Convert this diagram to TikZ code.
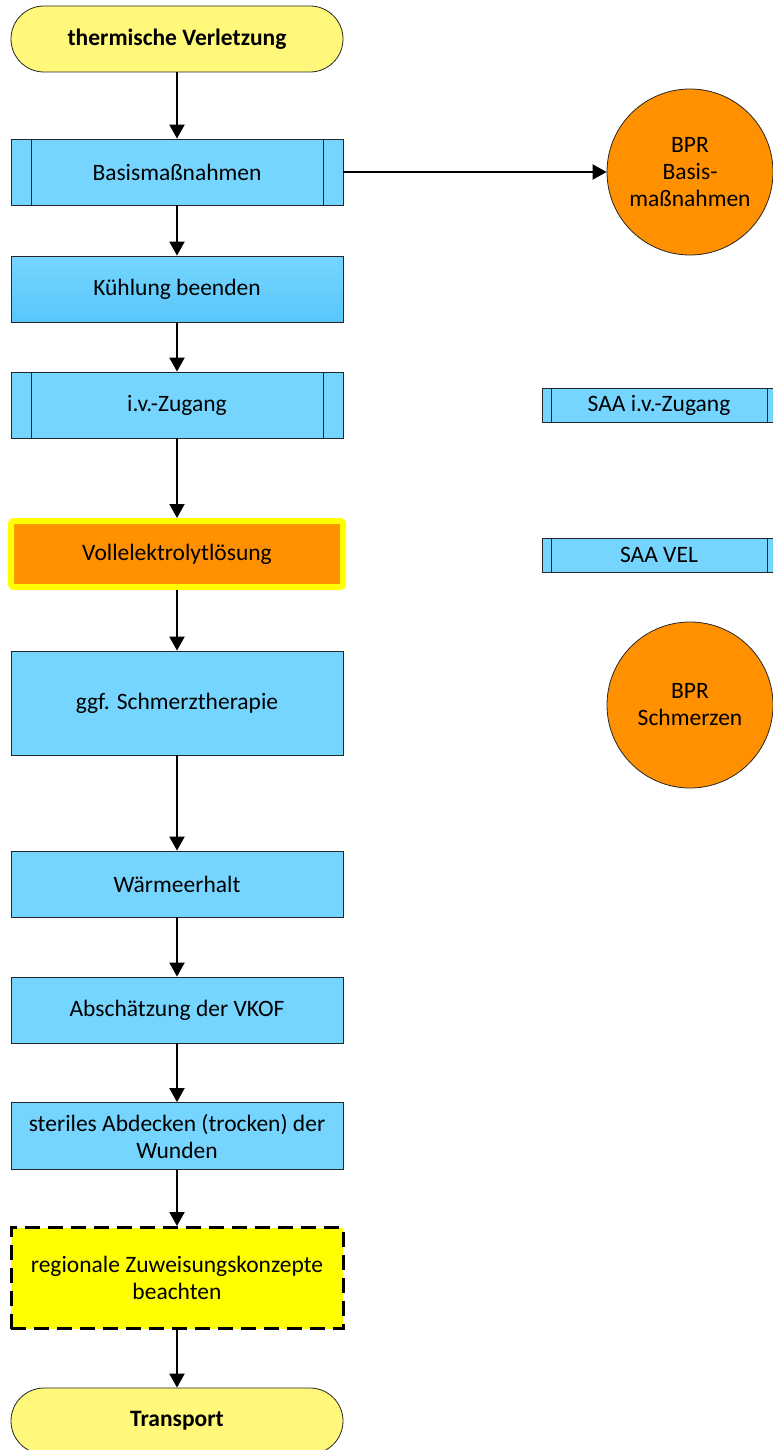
\documentclass[tikz,border=0pt]{standalone}
\usepackage{fontspec}
\setmainfont{Carlito}
\usetikzlibrary{arrows.meta}

\definecolor{termyellow}{RGB}{255,248,122}
\definecolor{stepblue}{RGB}{117,213,255}
\definecolor{stepbluedark}{RGB}{88,198,250}
\definecolor{bprorange}{RGB}{255,145,0}
\definecolor{signalyellow}{RGB}{255,255,0}

\begin{document}
\begin{tikzpicture}[x=1pt, y=-1pt,
    box/.style={rectangle, draw=black!85, line width=0.8pt, fill=stepblue, minimum width=332pt, minimum height=66pt, inner sep=0pt, font=\fontsize{23.5}{27}\selectfont, align=center},
    term/.style={box, fill=termyellow, rounded corners=33pt},
    subproc/.style={path picture={
        \draw[black!85, line width=0.8pt] ([xshift=#1]path picture bounding box.north west) -- ([xshift=#1]path picture bounding box.south west);
        \draw[black!85, line width=0.8pt] ([xshift=-#1]path picture bounding box.north east) -- ([xshift=-#1]path picture bounding box.south east);}},
    velbox/.style={box, fill=bprorange, draw=signalyellow, line width=6pt, rounded corners=3pt},
    regionbox/.style={box, fill=signalyellow, draw=black, line width=3pt, dash pattern=on 15pt off 8pt},
    saa/.style={box, minimum width=234pt, minimum height=34pt},
    bpr/.style={circle, draw=black!85, line width=0.8pt, fill=bprorange, minimum size=166pt, inner sep=0pt, font=\fontsize{23.5}{27}\selectfont, align=center},
    arrow/.style={-{Triangle[width=15pt, length=14pt]}, line width=2pt, black},
]
\useasboundingbox (0,0) rectangle (772,1450);

% Main path
\node[term] (start) at (177,39) {\bfseries thermische Verletzung};
\node[box, subproc=20pt] (basis) at (177,172) {Basismaßnahmen};
\node[box, top color=stepblue, bottom color=stepbluedark] (kuehlung) at (177,289) {Kühlung beenden};
\node[box, subproc=20pt] (zugang) at (177,405) {i.v.-Zugang};
\node[velbox] (vel) at (177,554) {Vollelektrolytlösung};
\node[box, minimum height=104pt] (schmerz) at (177,703) {ggf. Schmerztherapie};
\node[box] (waerme) at (177,884) {Wärmeerhalt};
\node[box] (vkof) at (177,1010) {Abschätzung der VKOF};
\node[box, minimum height=67pt] (steril) at (177,1136) {steriles Abdecken (trocken) der\\Wunden};
\node[regionbox, minimum height=101pt] (region) at (177,1278) {regionale Zuweisungskonzepte\\beachten};
\node[term] (transport) at (177,1421) {\bfseries Transport};

% Side references
\node[bpr] (bprbasis) at (690,172) {BPR\\Basis-\\maßnahmen};
\node[saa, subproc=9pt] (saazugang) at (659,405) {SAA i.v.-Zugang};
\node[saa, subproc=9pt] (saavel) at (659,555) {SAA VEL};
\node[bpr] (bprschmerz) at (690,705) {BPR\\Schmerzen};

% Arrows
\draw[arrow] (start) -- (basis);
\draw[arrow] (basis) -- (kuehlung);
\draw[arrow] (kuehlung) -- (zugang);
\draw[arrow] (zugang) -- (vel);
\draw[arrow] (vel) -- (schmerz);
\draw[arrow] (schmerz) -- (waerme);
\draw[arrow] (waerme) -- (vkof);
\draw[arrow] (vkof) -- (steril);
\draw[arrow] (steril) -- (region);
\draw[arrow] (region) -- (transport);
\draw[arrow] (basis) -- (bprbasis);
\end{tikzpicture}
\end{document}
